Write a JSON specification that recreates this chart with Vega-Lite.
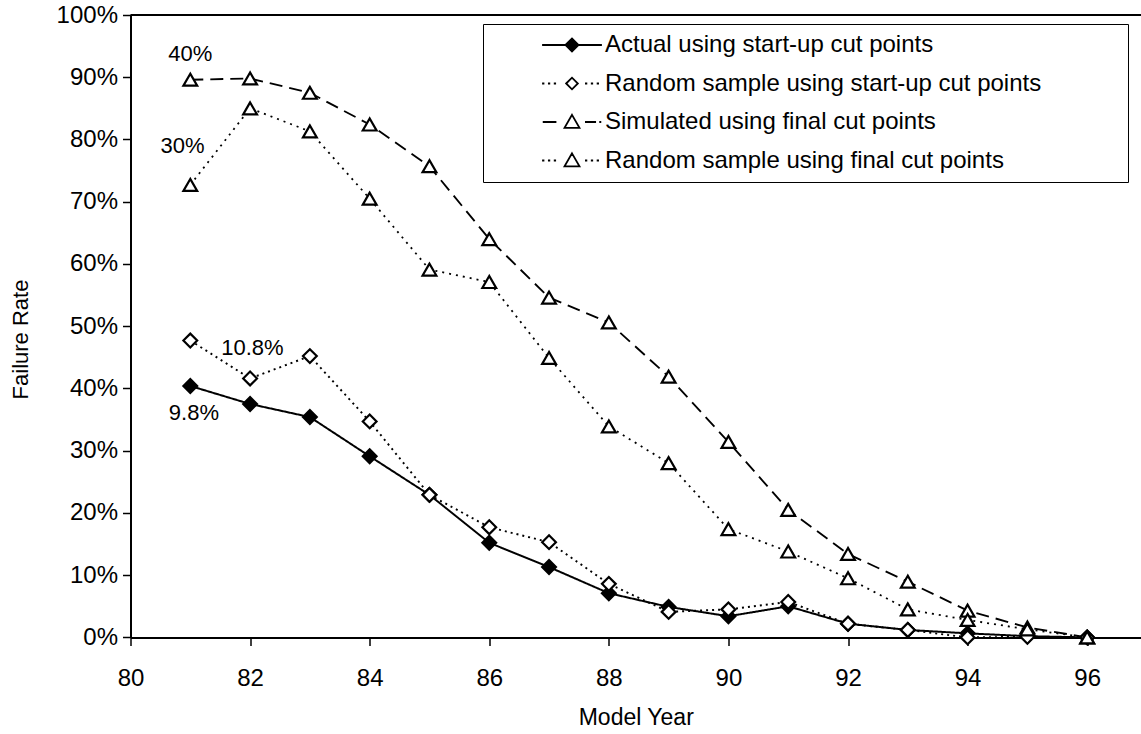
{
  "$schema": "https://vega.github.io/schema/vega-lite/v6.json",
  "width": 1010.5,
  "height": 622.4,
  "autosize": {"type": "none"},
  "padding": {"left": 130.5, "top": 15, "right": 0, "bottom": 96.6},
  "background": "white",
  "config": {
    "font": "Liberation Sans",
    "view": {"stroke": null},
    "axis": {"grid": false, "labelFlush": false, "domainColor": "black", "domainWidth": 2, "tickColor": "black", "tickWidth": 1.5, "tickSize": 8, "labelColor": "black", "titleColor": "black", "labelFont": "Liberation Sans", "titleFont": "Liberation Sans", "titleFontWeight": "normal"},
    "legend": {"symbolFillColor": "white", "symbolOpacity": 1, "symbolStrokeColor": "black", "symbolStrokeWidth": 1.8}
  },
  "resolve": {"scale": {"shape": "independent", "fill": "independent", "size": "independent"}},
  "datasets": {
    "series": [
      {"year": 81, "rate": 0.404, "series": "Actual using start-up cut points"},
      {"year": 82, "rate": 0.375, "series": "Actual using start-up cut points"},
      {"year": 83, "rate": 0.354, "series": "Actual using start-up cut points"},
      {"year": 84, "rate": 0.291, "series": "Actual using start-up cut points"},
      {"year": 85, "rate": 0.229, "series": "Actual using start-up cut points"},
      {"year": 86, "rate": 0.152, "series": "Actual using start-up cut points"},
      {"year": 87, "rate": 0.113, "series": "Actual using start-up cut points"},
      {"year": 88, "rate": 0.071, "series": "Actual using start-up cut points"},
      {"year": 89, "rate": 0.049, "series": "Actual using start-up cut points"},
      {"year": 90, "rate": 0.034, "series": "Actual using start-up cut points"},
      {"year": 91, "rate": 0.050, "series": "Actual using start-up cut points"},
      {"year": 92, "rate": 0.022, "series": "Actual using start-up cut points"},
      {"year": 93, "rate": 0.012, "series": "Actual using start-up cut points"},
      {"year": 94, "rate": 0.0065, "series": "Actual using start-up cut points"},
      {"year": 95, "rate": 0.002, "series": "Actual using start-up cut points"},
      {"year": 96, "rate": 0.0, "series": "Actual using start-up cut points"},
      {"year": 81, "rate": 0.477, "series": "Random sample using start-up cut points"},
      {"year": 82, "rate": 0.416, "series": "Random sample using start-up cut points"},
      {"year": 83, "rate": 0.452, "series": "Random sample using start-up cut points"},
      {"year": 84, "rate": 0.347, "series": "Random sample using start-up cut points"},
      {"year": 85, "rate": 0.229, "series": "Random sample using start-up cut points"},
      {"year": 86, "rate": 0.177, "series": "Random sample using start-up cut points"},
      {"year": 87, "rate": 0.153, "series": "Random sample using start-up cut points"},
      {"year": 88, "rate": 0.086, "series": "Random sample using start-up cut points"},
      {"year": 89, "rate": 0.041, "series": "Random sample using start-up cut points"},
      {"year": 90, "rate": 0.045, "series": "Random sample using start-up cut points"},
      {"year": 91, "rate": 0.057, "series": "Random sample using start-up cut points"},
      {"year": 92, "rate": 0.022, "series": "Random sample using start-up cut points"},
      {"year": 93, "rate": 0.012, "series": "Random sample using start-up cut points"},
      {"year": 94, "rate": 0.0, "series": "Random sample using start-up cut points"},
      {"year": 95, "rate": 0.001, "series": "Random sample using start-up cut points"},
      {"year": 96, "rate": 0.0, "series": "Random sample using start-up cut points"},
      {"year": 81, "rate": 0.896, "series": "Simulated using final cut points"},
      {"year": 82, "rate": 0.898, "series": "Simulated using final cut points"},
      {"year": 83, "rate": 0.875, "series": "Simulated using final cut points"},
      {"year": 84, "rate": 0.824, "series": "Simulated using final cut points"},
      {"year": 85, "rate": 0.757, "series": "Simulated using final cut points"},
      {"year": 86, "rate": 0.640, "series": "Simulated using final cut points"},
      {"year": 87, "rate": 0.546, "series": "Simulated using final cut points"},
      {"year": 88, "rate": 0.506, "series": "Simulated using final cut points"},
      {"year": 89, "rate": 0.419, "series": "Simulated using final cut points"},
      {"year": 90, "rate": 0.314, "series": "Simulated using final cut points"},
      {"year": 91, "rate": 0.205, "series": "Simulated using final cut points"},
      {"year": 92, "rate": 0.134, "series": "Simulated using final cut points"},
      {"year": 93, "rate": 0.0895, "series": "Simulated using final cut points"},
      {"year": 94, "rate": 0.043, "series": "Simulated using final cut points"},
      {"year": 95, "rate": 0.016, "series": "Simulated using final cut points"},
      {"year": 96, "rate": 0.0, "series": "Simulated using final cut points"},
      {"year": 81, "rate": 0.727, "series": "Random sample using final cut points"},
      {"year": 82, "rate": 0.850, "series": "Random sample using final cut points"},
      {"year": 83, "rate": 0.813, "series": "Random sample using final cut points"},
      {"year": 84, "rate": 0.705, "series": "Random sample using final cut points"},
      {"year": 85, "rate": 0.591, "series": "Random sample using final cut points"},
      {"year": 86, "rate": 0.571, "series": "Random sample using final cut points"},
      {"year": 87, "rate": 0.449, "series": "Random sample using final cut points"},
      {"year": 88, "rate": 0.339, "series": "Random sample using final cut points"},
      {"year": 89, "rate": 0.280, "series": "Random sample using final cut points"},
      {"year": 90, "rate": 0.174, "series": "Random sample using final cut points"},
      {"year": 91, "rate": 0.138, "series": "Random sample using final cut points"},
      {"year": 92, "rate": 0.095, "series": "Random sample using final cut points"},
      {"year": 93, "rate": 0.045, "series": "Random sample using final cut points"},
      {"year": 94, "rate": 0.028, "series": "Random sample using final cut points"},
      {"year": 95, "rate": 0.013, "series": "Random sample using final cut points"},
      {"year": 96, "rate": 0.0, "series": "Random sample using final cut points"}
    ],
    "notes": [
      {"year": 81.0, "rate": 0.937, "label": "40%"},
      {"year": 80.87, "rate": 0.790, "label": "30%"},
      {"year": 82.04, "rate": 0.465, "label": "10.8%"},
      {"year": 81.06, "rate": 0.361, "label": "9.8%"}
    ],
    "frame": [
      {"rate": 1.0}
    ]
  },
  "layer": [
    {
      "data": {"name": "frame"},
      "mark": {"type": "rule", "color": "black", "strokeWidth": 2},
      "encoding": {"y": {"field": "rate", "type": "quantitative"}}
    },
    {
      "data": {"name": "series"},
      "mark": {"type": "line", "color": "black"},
      "encoding": {
        "x": {"field": "year", "type": "quantitative", "scale": {"domain": [80, 96.9], "nice": false, "zero": false},
          "axis": {"values": [80, 82, 84, 86, 88, 90, 92, 94, 96], "format": "d", "labelFontSize": 24, "labelPadding": 21, "title": "Model Year", "titleFontSize": 23, "titlePadding": 16}},
        "y": {"field": "rate", "type": "quantitative", "scale": {"domain": [0, 1], "nice": false},
          "axis": {"values": [0, 0.1, 0.2, 0.3, 0.4, 0.5, 0.6, 0.7, 0.8, 0.9, 1.0], "format": ".0%", "labelFontSize": 24, "labelPadding": 5, "title": "Failure Rate", "titleFontSize": 22, "titlePadding": 24, "titleY": 324}},
        "detail": {"field": "series"},
        "strokeDash": {"field": "series", "type": "nominal", "legend": null,
          "scale": {"domain": ["Random sample using final cut points", "Simulated using final cut points", "Random sample using start-up cut points", "Actual using start-up cut points"],
            "range": [[2, 5], [13, 7], [2, 4], [1, 0]]}},
        "strokeWidth": {"field": "series", "type": "nominal", "legend": null,
          "scale": {"domain": ["Random sample using final cut points", "Simulated using final cut points", "Random sample using start-up cut points", "Actual using start-up cut points"],
            "range": [1.8, 2, 2.2, 2.5]}}
      }
    },
    {
      "data": {"name": "series"},
      "mark": {"type": "point", "filled": true, "stroke": "black", "strokeWidth": 2.2, "opacity": 1},
      "encoding": {
        "x": {"field": "year", "type": "quantitative"},
        "y": {"field": "rate", "type": "quantitative"},
        "shape": {"field": "series", "type": "nominal", "legend": null,
          "scale": {"domain": ["Random sample using final cut points", "Simulated using final cut points", "Random sample using start-up cut points", "Actual using start-up cut points"],
            "range": ["triangle-up", "triangle-up", "diamond", "diamond"]}},
        "fill": {"field": "series", "type": "nominal", "legend": null,
          "scale": {"domain": ["Random sample using final cut points", "Simulated using final cut points", "Random sample using start-up cut points", "Actual using start-up cut points"],
            "range": ["white", "white", "white", "black"]}},
        "size": {"field": "series", "type": "nominal", "legend": null,
          "scale": {"domain": ["Random sample using final cut points", "Simulated using final cut points", "Random sample using start-up cut points", "Actual using start-up cut points"],
            "range": [190, 190, 150, 170]}}
      }
    },
    {
      "data": {"name": "series"},
      "transform": [{"filter": "false"}],
      "mark": {"type": "point", "filled": true, "stroke": "black", "strokeWidth": 1.8, "size": 169, "opacity": 1},
      "encoding": {
        "x": {"field": "year", "type": "quantitative"},
        "y": {"field": "rate", "type": "quantitative"},
        "shape": {"field": "series", "type": "nominal",
          "scale": {"domain": ["Actual using start-up cut points", "Random sample using start-up cut points", "Simulated using final cut points", "Random sample using final cut points"],
            "range": [
              "M-4.6,0H-1M1,0H4.6M-1,0L0,-1L1,0L0,1Z",
              "M-4.6,0h0.35M-3.7,0h0.35M-2.8,0h0.35M2,0h0.35M2.9,0h0.35M3.8,0h0.35M-0.9,0L0,-0.9L0.9,0L0,0.9Z",
              "M-4.5,0H-2.4M2,0H3.7M4.2,0h0.3M0,-1.1L1.15,0.9L-1.15,0.9Z",
              "M-4.6,0h0.35M-3.7,0h0.35M-2.8,0h0.35M2,0h0.35M2.9,0h0.35M3.8,0h0.35M0,-1.1L1.15,0.9L-1.15,0.9Z"
            ]},
          "legend": {
            "title": "\u00a0", "titleOrient": "right", "titlePadding": 78, "titleFontSize": 24,
            "orient": "none", "legendX": 352.5, "legendY": 9,
            "strokeColor": "black", "fillColor": "white", "padding": 9,
            "symbolSize": 169, "symbolOffset": 68, "labelOffset": 21, "rowPadding": 14.5,
            "labelFontSize": 24, "labelColor": "black", "labelFont": "Liberation Sans", "labelLimit": 800
          }},
        "fill": {"field": "series", "type": "nominal",
          "scale": {"domain": ["Actual using start-up cut points", "Random sample using start-up cut points", "Simulated using final cut points", "Random sample using final cut points"],
            "range": ["black", "white", "white", "white"]},
          "legend": {"orient": "none", "legendX": 352.5, "legendY": 9}}
      }
    },
    {
      "data": {"name": "notes"},
      "mark": {"type": "text", "fontSize": 22, "font": "Liberation Sans", "color": "black", "align": "center", "baseline": "middle"},
      "encoding": {
        "x": {"field": "year", "type": "quantitative"},
        "y": {"field": "rate", "type": "quantitative"},
        "text": {"field": "label", "type": "nominal"}
      }
    }
  ]
}
